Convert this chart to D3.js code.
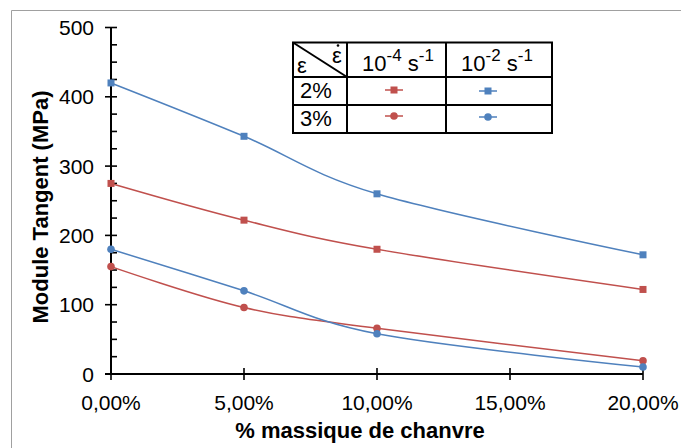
<!DOCTYPE html>
<html><head><meta charset="utf-8">
<script src="https://cdn.jsdelivr.net/npm/d3@7"></script>
<style>body{margin:0;background:#fff}svg{display:block;font-family:"Liberation Sans",Arial,sans-serif}</style>
</head><body><svg id="c" width="681" height="448"></svg>
<script>
const categories = [0, 5, 10, 20];
const xTicks = [0, 5, 10, 15, 20];
const yTicks = [0, 100, 200, 300, 400, 500];
const red2 = [275, 222, 180, 122];   // 2%, 10^-4 s^-1
const blue2 = [420, 343, 260, 172];  // 2%, 10^-2 s^-1
const red3 = [155, 96, 66, 19];      // 3%, 10^-4 s^-1
const blue3 = [180, 120, 58, 10];    // 3%, 10^-2 s^-1
const RED = "#C0504D", BLUE = "#4F81BD";
const series = [
  {vals: red2, color: RED, shape: "square"},
  {vals: blue2, color: BLUE, shape: "square"},
  {vals: red3, color: RED, shape: "circle"},
  {vals: blue3, color: BLUE, shape: "circle"}
];

const svg = d3.select("#c");
const x = d3.scaleLinear().domain([0, 20]).range([111, 643]);
const y = d3.scaleLinear().domain([0, 500]).range([374, 27.5]);

// frame
svg.append("path").attr("d", "M11.5,448 V10.5 H690").attr("fill", "none").attr("stroke", "#a0a0a0").attr("stroke-width", 1);

// y axis
const gy = svg.append("g");
gy.append("line").attr("x1", x(0)).attr("x2", x(0)).attr("y1", y(0)).attr("y2", y(500)).attr("stroke", "#000").attr("stroke-width", 2);
d3.range(0, 501, 25).forEach(v => {
  const major = v % 100 === 0;
  gy.append("line").attr("x1", major ? x(0) - 6 : x(0)).attr("x2", x(0) + 6)
    .attr("y1", y(v)).attr("y2", y(v)).attr("stroke", "#000").attr("stroke-width", 1.6);
});
yTicks.forEach(v => {
  gy.append("text").attr("x", 94).attr("y", y(v)).attr("dy", "0.36em").attr("text-anchor", "end")
    .attr("font-size", 21).attr("fill", "#000").text(v);
});

// x axis
const gx = svg.append("g");
gx.append("line").attr("x1", x(0) - 6).attr("x2", x(20)).attr("y1", y(0)).attr("y2", y(0)).attr("stroke", "#000").attr("stroke-width", 2);
xTicks.forEach(v => {
  gx.append("line").attr("x1", x(v)).attr("x2", x(v)).attr("y1", y(0) - 6).attr("y2", y(0) + 6).attr("stroke", "#000").attr("stroke-width", 1.6);
  gx.append("text").attr("x", x(v)).attr("y", 410).attr("text-anchor", "middle").attr("font-size", 21).attr("fill", "#000")
    .text(d3.format(".2f")(v).replace(".", ",") + "%");
});

// titles
svg.append("text").attr("x", 360).attr("y", 438).attr("text-anchor", "middle").attr("font-size", 22).attr("font-weight", "bold").text("% massique de chanvre");
svg.append("text").attr("transform", "translate(48,207) rotate(-90)").attr("text-anchor", "middle").attr("font-size", 22).attr("font-weight", "bold").text("Module Tangent (MPa)");

// lines
const line = d3.line().x((d, i) => x(categories[i])).y(d => y(d)).curve(d3.curveCardinal.tension(0));
function marker(g, shape, cx, cy, color) {
  if (shape === "square") g.append("rect").attr("x", cx - 3.5).attr("y", cy - 3.5).attr("width", 7).attr("height", 7).attr("fill", color);
  else g.append("circle").attr("cx", cx).attr("cy", cy).attr("r", 3.8).attr("fill", color);
}
series.forEach(s => {
  svg.append("path").attr("d", line(s.vals)).attr("fill", "none").attr("stroke", s.color).attr("stroke-width", 1.5);
  const g = svg.append("g");
  s.vals.forEach((v, i) => marker(g, s.shape, x(categories[i]), y(v), s.color));
});

// legend table
const L = svg.append("g");
const cx = [293, 347, 446, 552], ry = [42.5, 77, 105, 133];
L.append("rect").attr("x", cx[0]).attr("y", ry[0]).attr("width", cx[3] - cx[0]).attr("height", ry[3] - ry[0]).attr("fill", "#fff").attr("stroke", "#000").attr("stroke-width", 2);
[cx[1], cx[2]].forEach(xx => L.append("line").attr("x1", xx).attr("x2", xx).attr("y1", ry[0]).attr("y2", ry[3]).attr("stroke", "#000").attr("stroke-width", 2));
[ry[1], ry[2]].forEach(yy => L.append("line").attr("x1", cx[0]).attr("x2", cx[3]).attr("y1", yy).attr("y2", yy).attr("stroke", "#000").attr("stroke-width", 2));
L.append("line").attr("x1", cx[0]).attr("y1", ry[0]).attr("x2", cx[1]).attr("y2", ry[1]).attr("stroke", "#000").attr("stroke-width", 2);
L.append("text").attr("x", 297).attr("y", 73).attr("font-size", 22).text("ε");
L.append("text").attr("x", 332).attr("y", 63).attr("font-size", 22).text("ε");
L.append("circle").attr("cx", 338).attr("cy", 45.5).attr("r", 1.3).attr("fill", "#000");
function rate(xc, e) {
  const t = L.append("text").attr("x", xc).attr("y", 71).attr("font-size", 22).attr("text-anchor", "middle");
  t.append("tspan").text("10");
  t.append("tspan").attr("dy", -10).attr("font-size", 17).text(e);
  t.append("tspan").attr("dy", 10).text(" s");
  t.append("tspan").attr("dy", -10).attr("font-size", 17).text("-1");
}
rate(398, "-4");
rate(497, "-2");
L.append("text").attr("x", 300).attr("y", 98).attr("font-size", 22).text("2%");
L.append("text").attr("x", 300).attr("y", 126).attr("font-size", 22).text("3%");
const legRows = [
  {yy: 90, c: RED, shape: "square", xx: 394},
  {yy: 91, c: BLUE, shape: "square", xx: 488},
  {yy: 116, c: RED, shape: "circle", xx: 394},
  {yy: 117, c: BLUE, shape: "circle", xx: 488}
];
legRows.forEach(r => {
  L.append("line").attr("x1", r.xx - 9).attr("x2", r.xx + 9).attr("y1", r.yy).attr("y2", r.yy).attr("stroke", r.c).attr("stroke-width", 1.5);
  marker(L, r.shape, r.xx, r.yy, r.c);
});
</script></body></html>
